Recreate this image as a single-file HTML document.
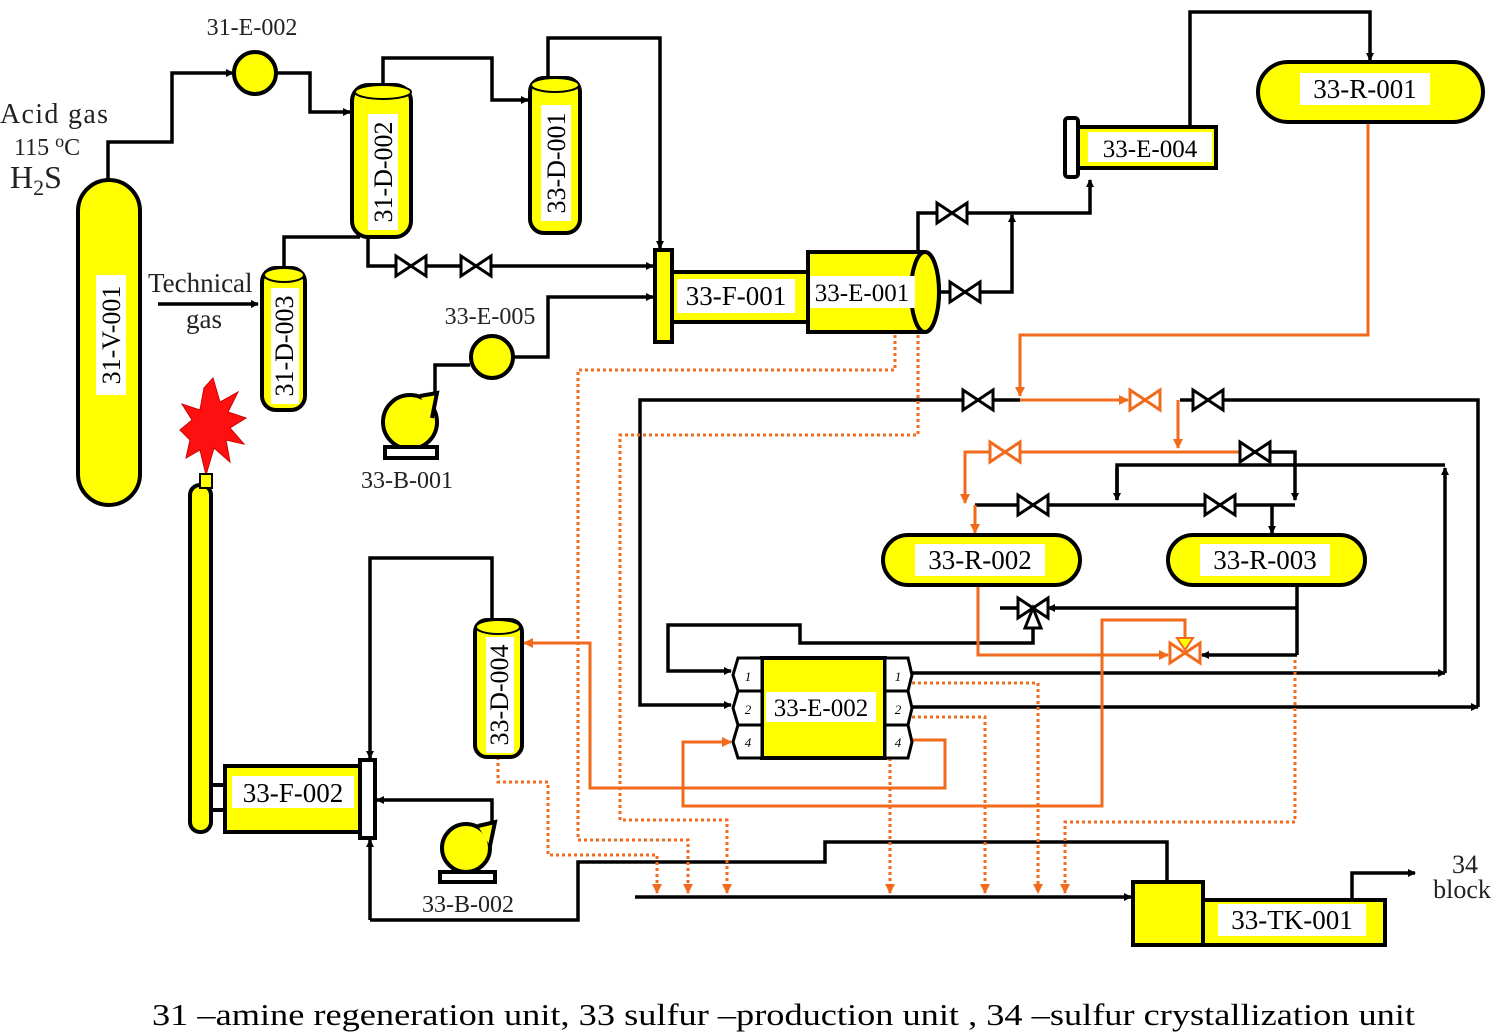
<!DOCTYPE html>
<html><head><meta charset="utf-8"><style>
html,body{margin:0;padding:0;background:#fff;}
svg{display:block;font-family:"Liberation Serif",serif;}
</style></head><body>
<svg width="1500" height="1035" viewBox="0 0 1500 1035" xmlns="http://www.w3.org/2000/svg">
<defs>
<marker id="ab" markerWidth="8" markerHeight="8" refX="7" refY="4" orient="auto" markerUnits="userSpaceOnUse"><path d="M0,0 L8,4 L0,8z" fill="#000"/></marker>
<marker id="ao" markerWidth="10" markerHeight="10" refX="9" refY="5" orient="auto" markerUnits="userSpaceOnUse"><path d="M0,0 L10,5 L0,10z" fill="#f26a1b"/></marker>
<g id="vb"><polygon points="-15,-10 0,0 -15,10" fill="#fff" stroke="#000" stroke-width="3"/><polygon points="15,-10 0,0 15,10" fill="#fff" stroke="#000" stroke-width="3"/></g>
<g id="vo"><polygon points="-15,-10 0,0 -15,10" fill="#fff" stroke="#f26a1b" stroke-width="3"/><polygon points="15,-10 0,0 15,10" fill="#fff" stroke="#f26a1b" stroke-width="3"/></g>
</defs>

<g fill="none" stroke="#000" stroke-width="3.5">
<path d="M108,180 V142 H172 V73 H233" marker-end="url(#ab)"/>
<path d="M277,73 H310 V112 H350" marker-end="url(#ab)"/>
<path d="M383,88 V58 H492 V100 H528" marker-end="url(#ab)"/>
<path d="M548,80 V38 H660 V248" marker-end="url(#ab)"/>
<path d="M368,237 V266 H653" marker-end="url(#ab)"/>
<path d="M284,270 V237 H360"/>
<path d="M158,304 H258" marker-end="url(#ab)"/>
<path d="M435,395 V365 H470" />
<path d="M514,357 H548 V297 H653" marker-end="url(#ab)"/>
<path d="M940,292 H1012 V215" marker-end="url(#ab)"/>
<path d="M918,252 V213 H1090 V180" marker-end="url(#ab)"/>
<path d="M1190,127 V12 H1370 V60" marker-end="url(#ab)"/>
<path d="M1020,400 H640 V705 H731" marker-end="url(#ab)"/>
<path d="M1180,400 H1478 V707"/>
<path d="M912,707 H1478" marker-end="url(#ab)"/>
<path d="M1255,452 H1295 V500" marker-end="url(#ab)"/>
<path d="M1117,500 V465 H1445"/>
<path d="M1445,673 V468" marker-end="url(#ab)"/>
<path d="M912,673 H1445" marker-end="url(#ab)"/>
<path d="M975,505 H1295"/>
<path d="M1272,505 V533" marker-end="url(#ab)"/>
<path d="M1117,468 V500" marker-end="url(#ab)"/>
<path d="M1297,585 V655"/>
<path d="M1297,608 H1048" marker-end="url(#ab)"/>
<path d="M1297,655 H1202" marker-end="url(#ab)"/>
<path d="M1000,608 H1020"/>
<path d="M1033,620 V643 H800 V625 H668 V671 H731" marker-end="url(#ab)"/>
<path d="M635,897 H1131" marker-end="url(#ab)"/>
<path d="M370,920 H578 V862 H825 V842 H1167 V882"/>
<path d="M1352,900 V873 H1415" marker-end="url(#ab)"/>
<path d="M370,920 V840" marker-end="url(#ab)"/>
<path d="M492,620 V558 H370 V758" marker-end="url(#ab)"/>
<path d="M492,825 V800 H377" marker-end="url(#ab)"/>
</g>

<g fill="none" stroke="#f26a1b" stroke-width="3">
<path d="M1368,122 V335 H1020 V396" marker-end="url(#ao)"/>
<path d="M1020,400 H1128" marker-end="url(#ao)"/>
<path d="M1178,400 V448" marker-end="url(#ao)"/>
<path d="M1240,452 H965 V503" marker-end="url(#ao)"/>
<path d="M975,505 V533" marker-end="url(#ao)"/>
<path d="M978,585 V655 H1168" marker-end="url(#ao)"/>
<path d="M912,740 H945 V788 H590 V643 H524" marker-end="url(#ao)"/>
<path d="M1185,640 V620 H1102 V806 H683 V742 H731" marker-end="url(#ao)"/>
</g>

<g fill="none" stroke="#f26a1b" stroke-width="3" stroke-dasharray="3,3">
<path d="M895,335 V370 H578 V840 H688 V893" marker-end="url(#ao)"/>
<path d="M918,335 V435 H620 V820 H727 V893" marker-end="url(#ao)"/>
<path d="M498,757 V782 H548 V855 H657 V893" marker-end="url(#ao)"/>
<path d="M912,683 H1038 V893" marker-end="url(#ao)"/>
<path d="M912,717 H985 V893" marker-end="url(#ao)"/>
<path d="M890,758 V893" marker-end="url(#ao)"/>
<path d="M1295,660 V822 H1065 V893" marker-end="url(#ao)"/>
</g>

<use href="#vb" x="411" y="266"/><use href="#vb" x="476" y="266"/>
<use href="#vb" x="965" y="292"/><use href="#vb" x="952" y="213"/>
<use href="#vb" x="978" y="400"/><use href="#vb" x="1208" y="400"/>
<use href="#vo" x="1145" y="400"/><use href="#vo" x="1005" y="452"/>
<use href="#vb" x="1255" y="452"/>
<use href="#vb" x="1033" y="505"/><use href="#vb" x="1220" y="505"/>
<use href="#vb" x="1033" y="608"/>
<polygon points="1025,628 1033,608 1041,628" fill="#fff" stroke="#000" stroke-width="3"/>
<use href="#vo" x="1185" y="653"/>
<polygon points="1177,638 1185,650 1193,638" fill="#ff0" stroke="#f26a1b" stroke-width="2"/>

<g fill="#ffff00" stroke="#000" stroke-width="4">
<rect x="78" y="180" width="62" height="325" rx="31"/>
<circle cx="255" cy="73" r="21"/>
<rect x="352" y="85" width="59" height="152" rx="16"/>
<rect x="530" y="78" width="50" height="155" rx="14"/>
<rect x="262" y="268" width="43" height="142" rx="14"/>
<rect x="655" y="250" width="17" height="92"/>
<rect x="672" y="272" width="136" height="50"/>
<path d="M808,252 H925 A14,40 0 0 1 925,332 H808 Z"/>
<ellipse cx="925" cy="292" rx="14" ry="40"/>
<circle cx="492" cy="357" r="21"/>
<circle cx="410" cy="422" r="27"/>
<path d="M420,396 L437,393 L432,418"/>
<rect x="385" y="447" width="52" height="11" fill="#fff"/>
<rect x="1065" y="118" width="13" height="59" rx="3" fill="#fff"/>
<rect x="1078" y="127" width="138" height="41"/>
<rect x="1258" y="62" width="225" height="60" rx="30"/>
<rect x="883" y="535" width="197" height="50" rx="25"/>
<rect x="1168" y="535" width="197" height="50" rx="25"/>
<rect x="475" y="620" width="47" height="137" rx="12"/>
<rect x="190" y="485" width="21" height="347" rx="10"/>
<rect x="211" y="785" width="14" height="25" fill="#fff"/>
<rect x="225" y="766" width="135" height="66"/>
<rect x="360" y="760" width="15" height="78" fill="#fff"/>
<circle cx="466" cy="848" r="24"/>
<path d="M478,826 L495,822 L490,846"/>
<rect x="440" y="872" width="55" height="10" fill="#fff"/>
<rect x="762" y="658" width="123" height="100"/>
<rect x="1133" y="882" width="70" height="63"/>
<rect x="1203" y="900" width="182" height="45"/>
</g>
<g fill="#fff" stroke="#000" stroke-width="3">
<path d="M738,658 H762 V691 H738 L733,675 Z"/><path d="M738,691 H762 V725 H738 L733,708 Z"/><path d="M738,725 H762 V758 H738 L733,742 Z"/>
<path d="M885,658 H908 L912,675 L908,691 H885 Z"/><path d="M885,691 H908 L912,708 L908,725 H885 Z"/><path d="M885,725 H908 L912,742 L908,758 H885 Z"/>
</g>
<g font-size="13" text-anchor="middle" font-style="italic">
<text x="748" y="681">1</text><text x="748" y="714">2</text><text x="748" y="747">4</text>
<text x="898" y="681">1</text><text x="898" y="714">2</text><text x="898" y="747">4</text>
</g>
<ellipse cx="383" cy="92" rx="28" ry="7" fill="#ff0" stroke="#000" stroke-width="2"/>
<ellipse cx="555" cy="85" rx="24" ry="7" fill="#ff0" stroke="#000" stroke-width="2"/>
<ellipse cx="284" cy="275" rx="20" ry="7" fill="#ff0" stroke="#000" stroke-width="2"/>
<ellipse cx="498" cy="627" rx="22" ry="7" fill="#ff0" stroke="#000" stroke-width="2"/>
<polygon points="213,378 220,402 238,392 228,412 246,418 230,428 244,444 226,440 230,462 214,448 206,475 200,450 186,458 190,440 180,430 192,420 182,404 200,410 204,388" fill="#ff1010" stroke="#c00" stroke-width="1"/>
<rect x="200" y="474" width="12" height="14" fill="#ff0" stroke="#000" stroke-width="2"/>

<g font-size="27">
<g fill="#fff">
<rect x="677" y="279" width="118" height="34"/><rect x="810" y="276" width="105" height="32"/>
<rect x="1088" y="132" width="124" height="30"/><rect x="1300" y="73" width="130" height="32"/>
<rect x="915" y="544" width="130" height="32"/><rect x="1200" y="544" width="130" height="32"/>
<rect x="766" y="692" width="110" height="30"/><rect x="232" y="776" width="122" height="32"/>
<rect x="1218" y="904" width="148" height="32"/>
</g>
<text x="736" y="305" text-anchor="middle">33-F-001</text>
<text x="862" y="301" text-anchor="middle" font-size="25">33-E-001</text>
<text x="1150" y="157" text-anchor="middle" font-size="25">33-E-004</text>
<text x="1365" y="98" text-anchor="middle">33-R-001</text>
<text x="980" y="569" text-anchor="middle">33-R-002</text>
<text x="1265" y="569" text-anchor="middle">33-R-003</text>
<text x="821" y="716" text-anchor="middle" font-size="25">33-E-002</text>
<text x="293" y="802" text-anchor="middle">33-F-002</text>
<text x="1292" y="929" text-anchor="middle">33-TK-001</text>
</g>
<g font-size="26">
<g transform="translate(120,335) rotate(-90)"><rect x="-60" y="-24" width="120" height="30" fill="#fff"/><text text-anchor="middle">31-V-001</text></g>
<g transform="translate(392,172) rotate(-90)"><rect x="-58" y="-24" width="116" height="30" fill="#fff"/><text text-anchor="middle">31-D-002</text></g>
<g transform="translate(565,163) rotate(-90)"><rect x="-58" y="-24" width="116" height="30" fill="#fff"/><text text-anchor="middle">33-D-001</text></g>
<g transform="translate(293,346) rotate(-90)"><rect x="-58" y="-22" width="116" height="28" fill="#fff"/><text text-anchor="middle">31-D-003</text></g>
<g transform="translate(508,695) rotate(-90)"><rect x="-58" y="-22" width="116" height="28" fill="#fff"/><text text-anchor="middle">33-D-004</text></g>
</g>
<g font-size="24" fill="#222">
<text x="252" y="35" text-anchor="middle">31-E-002</text>
<text x="490" y="324" text-anchor="middle">33-E-005</text>
<text x="407" y="488" text-anchor="middle">33-B-001</text>
<text x="468" y="912" text-anchor="middle">33-B-002</text>
<text x="0" y="123" font-size="28" textLength="108">Acid gas</text>
<text x="14" y="155" font-size="24">115 <tspan dy="-8" font-size="18">o</tspan><tspan dy="8">C</tspan></text>
<text x="10" y="188" font-size="32">H<tspan dy="7" font-size="22">2</tspan><tspan dy="-7">S</tspan></text>
<text x="148" y="292" font-size="27">Technical</text>
<text x="186" y="328" font-size="27">gas</text>
<text x="1465" y="873" text-anchor="middle" font-size="26">34</text>
<text x="1462" y="898" text-anchor="middle" font-size="26">block</text>
</g>
<text x="152" y="1025" font-size="31" textLength="1263" lengthAdjust="spacingAndGlyphs">31 –amine regeneration unit, 33 sulfur –production unit , 34 –sulfur crystallization unit</text>
</svg>
</body></html>
